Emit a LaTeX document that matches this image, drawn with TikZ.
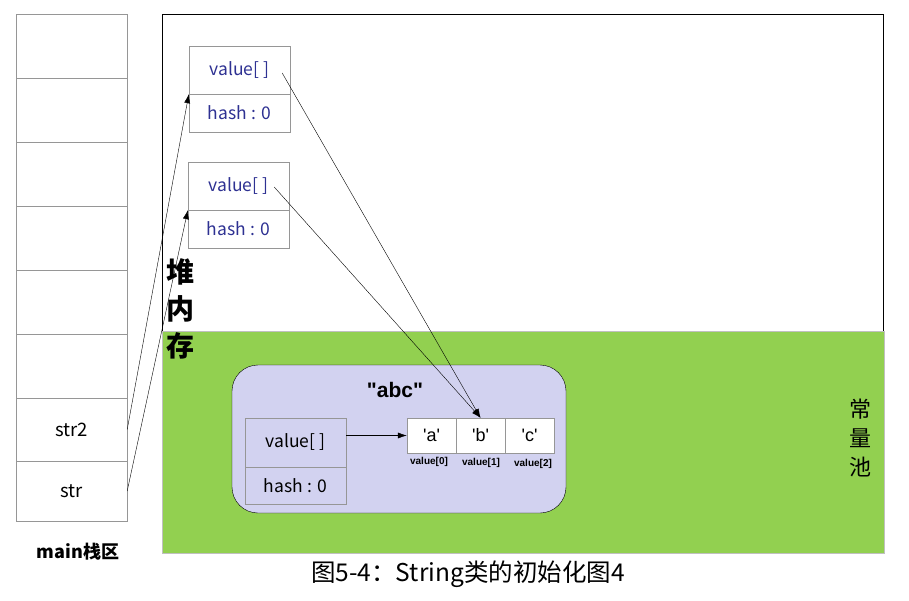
\documentclass[tikz,border=0pt]{standalone}
\usepackage{fontspec}
\setmainfont{Noto Sans CJK SC}
\newfontfamily\arialfont{Liberation Sans}
\usetikzlibrary{arrows.meta,calc}
\definecolor{poolgreen}{RGB}{146,208,80}
\definecolor{objlilac}{RGB}{210,210,240}
\definecolor{fieldblue}{RGB}{46,49,146}
\definecolor{cellgray}{RGB}{150,150,150}
\tikzset{
  stackcell/.style={draw=cellgray, minimum width=111pt, minimum height=64pt, inner sep=0pt, font=\fontsize{18.5}{22}\selectfont},
  field/.style={draw=cellgray, minimum width=101pt, inner sep=0pt, font=\fontsize{17.5}{21}\selectfont},
  charcell/.style={draw=cellgray, fill=white, minimum width=49pt, minimum height=35pt, inner sep=0pt, font=\arialfont\fontsize{18}{21}\selectfont},
  idxlabel/.style={font=\arialfont\bfseries\fontsize{10}{12}\selectfont},
  ptr/.style={-{Latex[length=9pt,width=6pt]}, black}
}

\begin{document}
\begin{tikzpicture}[x=1pt,y=-1pt]
		%%%%% START %%%%%
		\useasboundingbox (0,0) rectangle (909,601);
		
		% main stack
		\foreach \i in {0,...,5}
			\node[stackcell] (s\i) at (71.5, 46+64*\i) {};
		\node[stackcell, minimum height=63pt] (str2) at (71.5, 429.5) {str2};
		\node[stackcell, minimum height=60pt] (str) at (71.5, 491) {str};
		\node[font=\bfseries\fontsize{18}{22}\selectfont] (stacklbl) at (78, 552) {main栈区};
		
		% heap and constant pool
		\draw[black, line width=1pt] (162, 15) rectangle (883, 331);
		\draw[fill=poolgreen, draw=cellgray!60] (162, 331) rectangle (884, 553);
		\node[font=\bfseries\fontsize{28}{37}\selectfont, align=center] (heaplbl) at (180, 309) {堆\\内\\存};
		\node[font=\fontsize{22}{29}\selectfont, align=center] (poollbl) at (860, 438) {常\\量\\池};
		
		% String objects on the heap
		\node[field, minimum height=48pt, text=fieldblue] (h1v) at (239.5, 70) {value[ ]};
		\node[field, minimum height=38pt, text=fieldblue] (h1h) at (239.5, 113) {hash : 0};
		\node[field, minimum height=48pt, text=fieldblue] (h2v) at (238.5, 186) {value[ ]};
		\node[field, minimum height=38pt, text=fieldblue] (h2h) at (238.5, 229) {hash : 0};
		
		% "abc" in the pool
		\node[draw=black, fill=objlilac, rounded corners=26pt, minimum width=334pt, minimum height=148pt] (abcobj) at (399, 439) {};
		\node[font=\arialfont\bfseries\fontsize{21}{24}\selectfont] (abclbl) at (395, 390) {"abc"};
		\node[field, minimum height=49pt] (iv) at (295.5, 442.5) {value[ ]};
		\node[field, minimum height=37pt] (ih) at (295.5, 485.5) {hash : 0};
		\node[charcell] (ca) at (431.5, 435.5) {'a'};
		\node[charcell] (cb) at (480.5, 435.5) {'b'};
		\node[charcell] (cc) at (529.5, 435.5) {'c'};
		\node[idxlabel] (ia) at (429, 462) {value[0]};
		\node[idxlabel] (ib) at (481, 463) {value[1]};
		\node[idxlabel] (ic) at (533, 464) {value[2]};
		
		% references
		\draw[ptr] (iv.east |- ca.west) -- (ca.west);
		\draw[ptr] (str2.east) -- (h1v.south west);
		\draw[ptr] (str.east) -- (h2v.south west);
		\draw[ptr] ($(h1v.east)+(-8,3)$) -- (cb.north);
		\draw[ptr] ($(h2v.east)+(-15,1)$) -- (cb.north);
		
		\node[font=\fontsize{24.5}{28}\selectfont] (caption) at (468, 574) {图5-4：String类的初始化图4};
		%%%%% END %%%%%
	\end{tikzpicture}
\end{document}
